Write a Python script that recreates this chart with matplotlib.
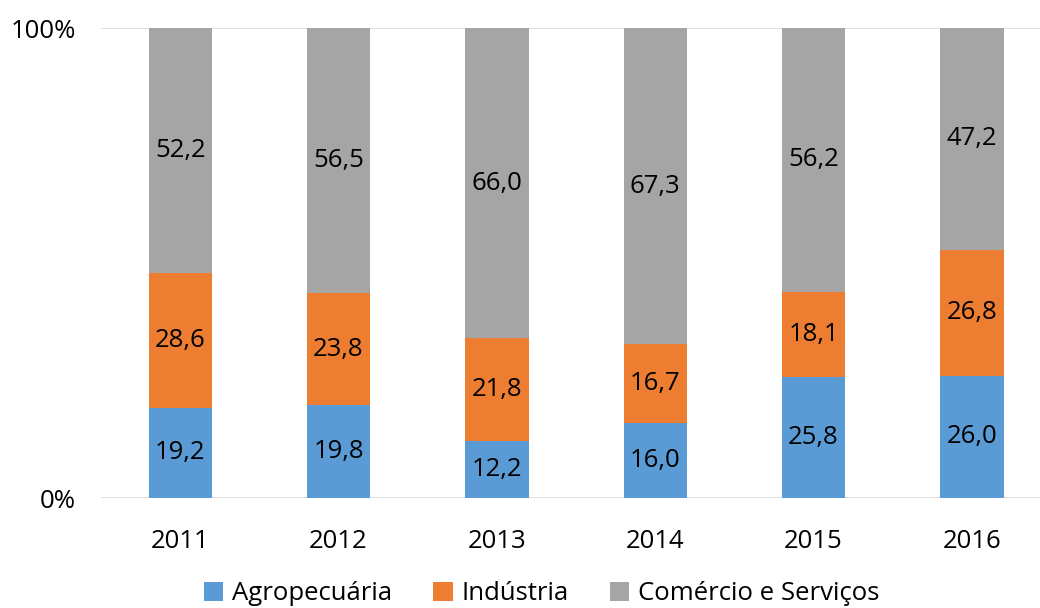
import matplotlib
matplotlib.use("Agg")
import matplotlib.pyplot as plt
import numpy as np

years = ["2011", "2012", "2013", "2014", "2015", "2016"]
agro = [19.2, 19.8, 12.2, 16.0, 25.8, 26.0]
industria = [28.6, 23.8, 21.8, 16.7, 18.1, 26.8]
comercio = [52.2, 56.5, 66.0, 67.3, 56.2, 47.2]
series_names = ["Agropecuária", "Indústria", "Comércio e Serviços"]
colors = ["#5B9BD5", "#ED7D31", "#A5A5A5"]

plt.rcParams['font.family'] = ['Open Sans', 'DejaVu Sans']
FS = 18.5

fig = plt.figure(figsize=(10.4, 6.08), dpi=100)
ax = fig.add_axes([101/1040, 1-498/608, 1-101/1040, 470/608])

x = np.arange(len(years))
width = 0.4
bottom = np.zeros(len(years))
for vals, name, c in zip([agro, industria, comercio], series_names, colors):
    vals = np.array(vals)
    ax.bar(x, vals, width, bottom=bottom, color=c, label=name, zorder=2)
    for xi, b, v in zip(x, bottom, vals):
        ax.text(xi, b + v/2, f"{v:.1f}".replace(".", ","), ha="center", va="center",
                fontsize=FS, color="black", zorder=3)
    bottom += vals

ax.set_xlim(-0.5, 5.43)
ax.set_ylim(0, 100)
ax.set_yticks([0, 100])
ax.set_yticklabels(["0%", "100%"], fontsize=FS)
ax.set_xticks(x)
ax.set_xticklabels(years, fontsize=FS)
ax.tick_params(axis='x', length=0, pad=22)
ax.tick_params(axis='y', length=0, pad=18)
ax.yaxis.grid(True, color="#D9D9D9", linewidth=1.2, zorder=0)
for s in ax.spines.values():
    s.set_visible(False)

fig.legend(loc="lower center", bbox_to_anchor=(0.521, -0.035), ncol=3, frameon=False,
           fontsize=FS, handlelength=0.75, handleheight=0.75, handletextpad=0.35,
           columnspacing=1.6)

fig.savefig("out.png", dpi=100)
